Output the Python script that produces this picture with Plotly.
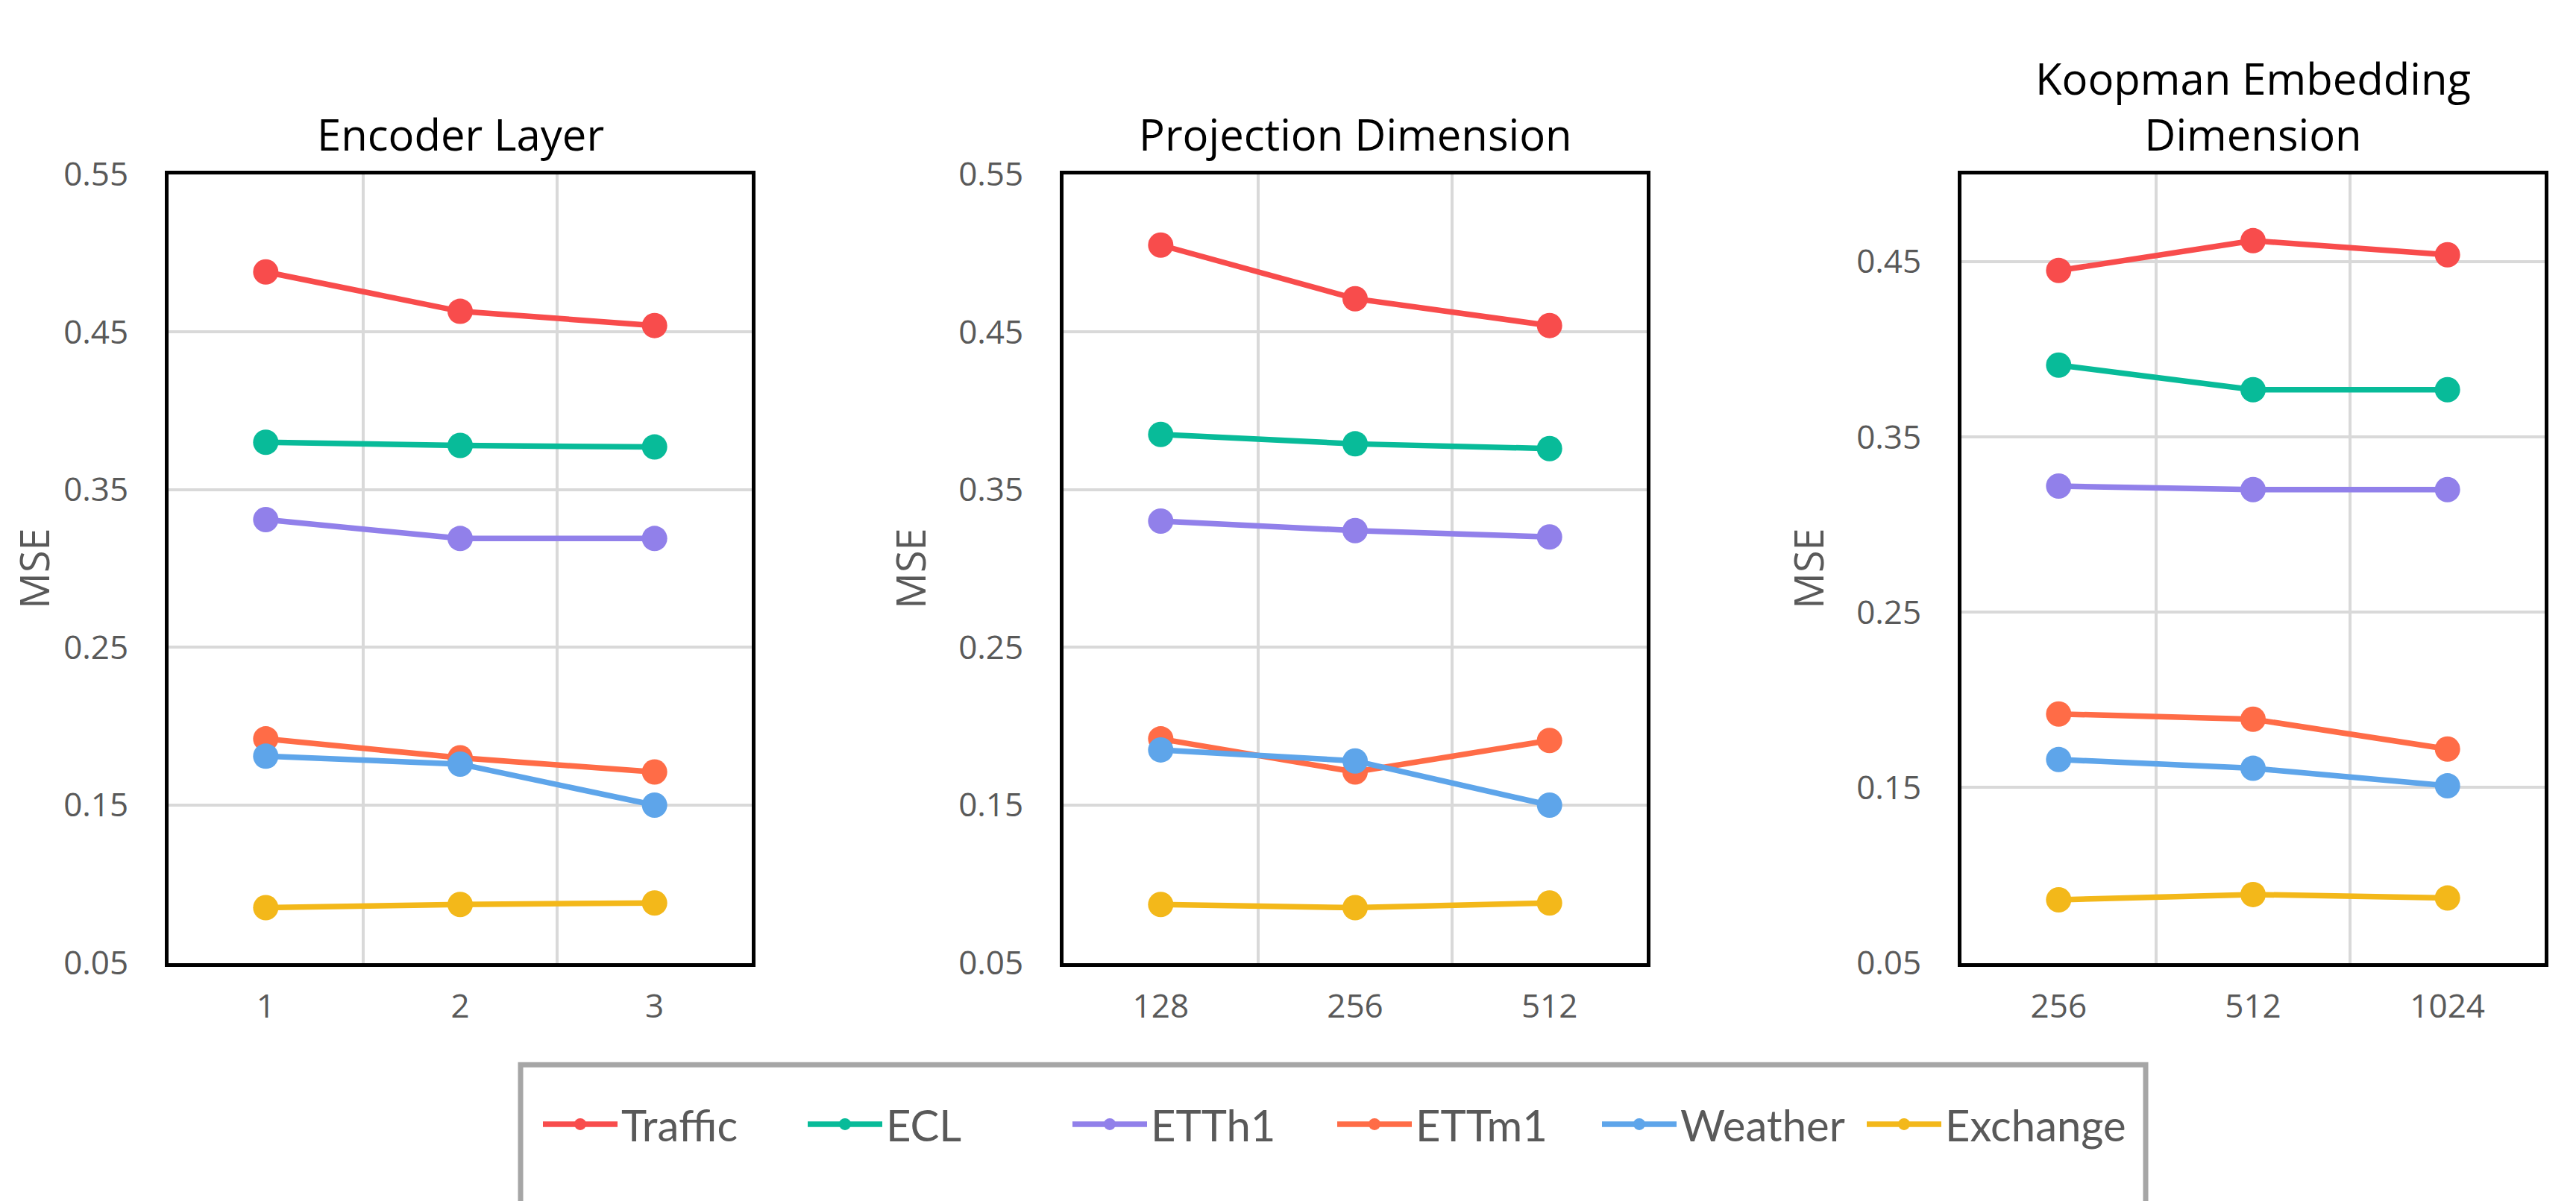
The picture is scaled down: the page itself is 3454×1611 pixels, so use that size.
import plotly.graph_objects as go
from plotly.subplots import make_subplots

# --------- DATA ---------
SERIES = ["Traffic", "ECL", "ETTh1", "ETTm1", "Weather", "Exchange"]
COLORS = ["#f84c4c", "#08bb99", "#9180ea", "#ff6c47", "#5ea5ea", "#f3b81a"]

ENC_X = ["1", "2", "3"]
ENC_TRAFFIC = [0.488, 0.463, 0.454]
ENC_ECL = [0.380, 0.378, 0.377]
ENC_ETTH1 = [0.331, 0.319, 0.319]
ENC_ETTM1 = [0.192, 0.180, 0.171]
ENC_WEATHER = [0.181, 0.176, 0.150]
ENC_EXCHANGE = [0.085, 0.087, 0.088]

PROJ_X = ["128", "256", "512"]
PROJ_TRAFFIC = [0.505, 0.471, 0.454]
PROJ_ECL = [0.385, 0.379, 0.376]
PROJ_ETTH1 = [0.330, 0.324, 0.320]
PROJ_ETTM1 = [0.192, 0.171, 0.191]
PROJ_WEATHER = [0.185, 0.178, 0.150]
PROJ_EXCHANGE = [0.087, 0.085, 0.088]

KOOP_X = ["256", "512", "1024"]
KOOP_TRAFFIC = [0.445, 0.462, 0.454]
KOOP_ECL = [0.391, 0.377, 0.377]
KOOP_ETTH1 = [0.322, 0.320, 0.320]
KOOP_ETTM1 = [0.192, 0.189, 0.172]
KOOP_WEATHER = [0.166, 0.161, 0.151]
KOOP_EXCHANGE = [0.086, 0.089, 0.087]

PANELS = [
    ("Encoder Layer", ENC_X,
     [ENC_TRAFFIC, ENC_ECL, ENC_ETTH1, ENC_ETTM1, ENC_WEATHER, ENC_EXCHANGE], [0.05, 0.55]),
    ("Projection Dimension", PROJ_X,
     [PROJ_TRAFFIC, PROJ_ECL, PROJ_ETTH1, PROJ_ETTM1, PROJ_WEATHER, PROJ_EXCHANGE], [0.05, 0.55]),
    ("Koopman Embedding<br>Dimension", KOOP_X,
     [KOOP_TRAFFIC, KOOP_ECL, KOOP_ETTH1, KOOP_ETTM1, KOOP_WEATHER, KOOP_EXCHANGE], [0.05, 0.50]),
]
# -------------------------------------------------

W, H = 3454, 1611
X_DOMAINS = [[218 / W, 1000 / W], [1418 / W, 2200 / W], [2622 / W, 3404 / W]]
Y_DOMAIN = [1 - 1300 / H, 1 - 201 / H]

FONT = "Open Sans, Noto Sans, sans-serif"
GRAY = "#595959"

fig = make_subplots(rows=1, cols=3)

for col, (title, cats, values, yrange) in enumerate(PANELS, start=1):
    for name, color, ys in zip(SERIES, COLORS, values):
        fig.add_trace(go.Scatter(
            x=cats, y=ys, name=name, mode="lines+markers",
            line=dict(color=color, width=7.5),
            marker=dict(color=color, size=34),
            legendgroup=name, showlegend=(col == 1),
        ), row=1, col=col)

    fig.update_xaxes(
        type="category", range=[-0.5, 2.5], tickson="boundaries",
        showgrid=True, gridcolor="#d9d9d9", gridwidth=4,
        showline=True, mirror=True, linecolor="black", linewidth=5,
        ticks="", ticklabelstandoff=16,
        tickfont=dict(family=FONT, size=44, color=GRAY),
        domain=X_DOMAINS[col - 1], row=1, col=col,
    )
    fig.update_yaxes(
        range=yrange, tick0=0.05, dtick=0.1, tickformat=".2f",
        showgrid=True, gridcolor="#d9d9d9", gridwidth=4, zeroline=False,
        showline=True, mirror=True, linecolor="black", linewidth=5,
        ticks="", ticklabelstandoff=40,
        tickfont=dict(family=FONT, size=44, color=GRAY),
        title=dict(text="MSE", font=dict(family=FONT, size=54, color=GRAY), standoff=28),
        domain=Y_DOMAIN, row=1, col=col,
    )

    # panel title above each plot area
    xname = "x" if col == 1 else f"x{col}"
    yname = "y" if col == 1 else f"y{col}"
    fig.add_annotation(
        text=title, xref=f"{xname} domain", yref=f"{yname} domain",
        x=0.5, y=1.012, xanchor="center", yanchor="bottom", showarrow=False,
        font=dict(family=FONT, size=58, color="black"),
    )

# legend frame
fig.add_shape(
    type="rect", xref="paper", yref="paper",
    x0=690 / W, x1=2869 / W, y0=-0.02, y1=1 - 1442 / H,
    line=dict(color="#a6a6a6", width=7), fillcolor="rgba(0,0,0,0)",
)

fig.update_layout(
    width=W, height=H,
    margin=dict(l=0, r=0, t=0, b=0),
    paper_bgcolor="white", plot_bgcolor="white",
    showlegend=True,
    legend=dict(
        orientation="h", x=1780 / W, y=1 - 1525 / H,
        xanchor="center", yanchor="middle",
        font=dict(family="Lato, Open Sans, sans-serif", size=58, color=GRAY),
        itemwidth=100, entrywidth=240, entrywidthmode="pixels",
        bgcolor="rgba(0,0,0,0)", borderwidth=0,
    ),
)

fig.write_html("out.html")
